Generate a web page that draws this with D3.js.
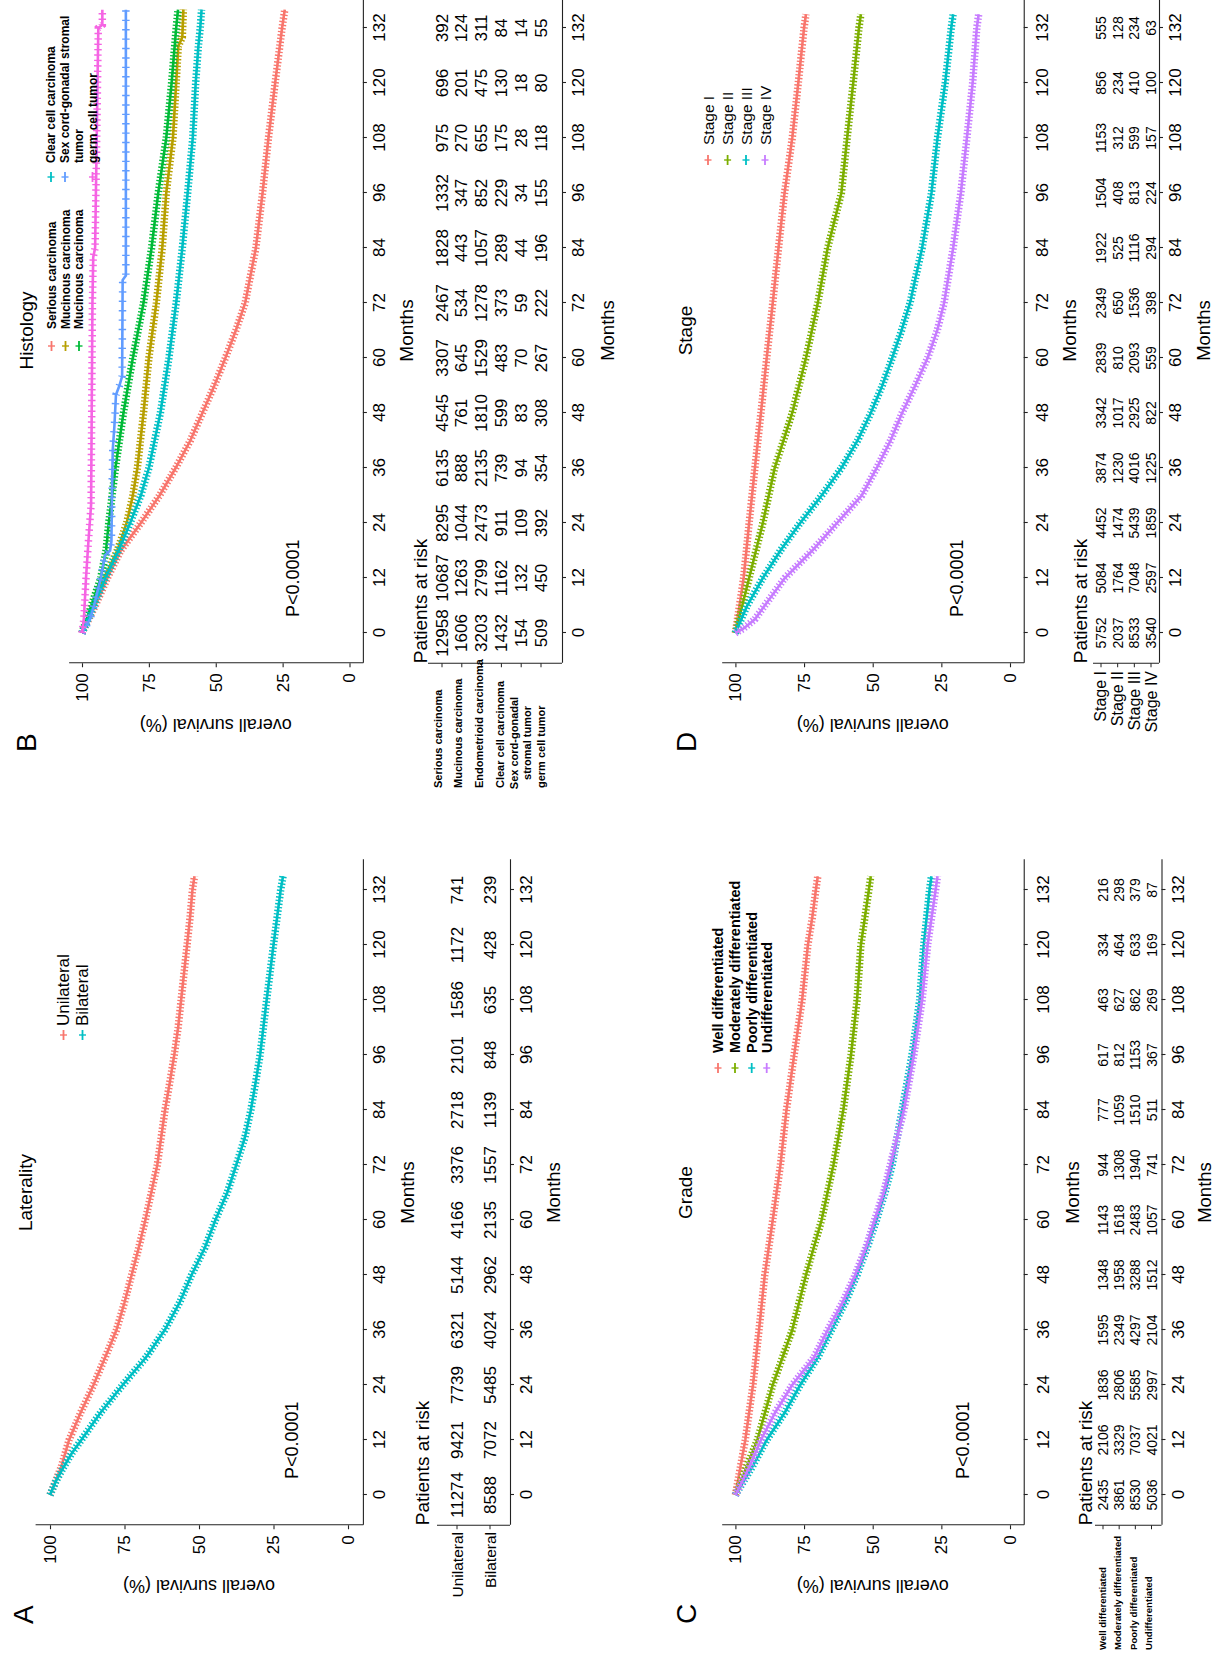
<!DOCTYPE html>
<html>
<head>
<meta charset="utf-8">
<script src="https://cdn.jsdelivr.net/npm/d3@7"></script>
<style>
  html, body { margin: 0; background: #fff; }
  svg { display: block; }
</style>
</head>
<body>
<svg id="fig" width="1218" height="1657"></svg>
<script>
// ---- shared ticks ----
const monthTicks = [0, 12, 24, 36, 48, 60, 72, 84, 96, 108, 120, 132];
const survTicks = [0, 25, 50, 75, 100];

// ---- A: Laterality ----
const lateralityGroups = ['Unilateral', 'Bilateral'];
const lateralityColors = ['#F8766D', '#00BFC4'];
const unilateralSurv = [[0,100],[6,96.3],[12,93.6],[18,89.7],[24,85.4],[30,81.5],[36,77.7],[42,75],[48,72.6],[54,70.2],[60,68],[66,66],[72,64],[78,62.7],[84,61.4],[90,59.8],[96,58.3],[102,57],[108,56],[114,55],[120,54],[126,53],[132,52.2],[135,51.5]];
const bilateralSurv = [[0,100],[3,98],[6,95.5],[9,92.8],[12,89.5],[18,83],[24,75.6],[30,67.8],[36,61.5],[42,56.5],[48,52.5],[54,48],[60,44.5],[66,40.5],[72,37.5],[78,34.6],[84,32.6],[90,31],[96,29.5],[108,27.3],[120,25],[132,22.6],[135,21.8]];
const unilateralRisk = [11274, 9421, 7739, 6321, 5144, 4166, 3376, 2718, 2101, 1586, 1172, 741];
const bilateralRisk = [8588, 7072, 5485, 4024, 2962, 2135, 1557, 1139, 848, 635, 428, 239];

// ---- B: Histology ----
const histologyGroups = ['Serious carcinoma', 'Mucinous carcinoma', 'Endometrioid carcinoma', 'Clear cell carcinoma', 'Sex cord-gonadal stromal tumor', 'germ cell tumor'];
const histologyLegend = ['Serious carcinoma', 'Mucinous carcinoma', 'Mucinous carcinoma', 'Clear cell carcinoma', ['Sex cord-gonadal stromal', 'tumor'], 'germ cell tumor'];
const histologyRowNames = ['Serious carcinoma', 'Mucinous carcinoma', 'Endometrioid carcinoma', 'Clear cell carcinoma', ['Sex cord-gonadal', 'stromal tumor'], 'germ cell tumor'];
const histologyColors = ['#F8766D', '#B79F00', '#00BA38', '#00BFC4', '#619CFF', '#F564E3'];
const seriousSurv = [[0,100],[6,95],[12,90.5],[18,85.5],[24,78],[30,71],[36,65],[42,59.5],[48,55],[54,50.5],[60,46.4],[66,42.5],[72,39],[78,37],[84,35],[96,32.5],[108,30.3],[120,27.8],[132,25.2],[136,24.2]];
const mucinousSurv = [[0,100],[6,96],[12,91.8],[18,86.8],[24,83.3],[30,81],[36,79.3],[48,77],[60,75],[72,72.2],[84,70],[96,68.5],[108,66],[120,64.8],[128,64],[130,62.5],[136,62.1]];
const endometrioidSurv = [[0,100],[6,96.5],[12,93],[18,91],[24,90],[36,87.5],[48,84.5],[60,81],[72,77],[84,74],[96,71.5],[108,68.5],[120,66.5],[132,64.8],[136,64.1]];
const clearCellSurv = [[0,100],[6,95.5],[12,91.3],[18,86.3],[24,82],[30,78],[36,75],[48,70.7],[60,67.5],[72,64.8],[84,62.5],[96,60.5],[108,58.6],[120,57.5],[128,56.5],[132,55.8],[136,55.3]];
const sexCordSurv = [[0,100],[3,97],[6,95.5],[12,93],[15,92],[17,91.4],[18,89.5],[20,89],[30,88.8],[40,88.5],[45,87.9],[52,87.3],[54,86],[56,85],[77,84.8],[78,83.6],[136,83.6]];
const germCellSurv = [[0,100],[3,99.3],[12,98.5],[20,97.6],[28,96.6],[72,96.1],[82,95.8],[84,95.1],[132,93.9],[132.7,92.4],[136,92.4]];
const seriousRisk = [12958, 10687, 8295, 6135, 4545, 3307, 2467, 1828, 1332, 975, 696, 392];
const mucinousRisk = [1606, 1263, 1044, 888, 761, 645, 534, 443, 347, 270, 201, 124];
const endometrioidRisk = [3203, 2799, 2473, 2135, 1810, 1529, 1278, 1057, 852, 655, 475, 311];
const clearCellRisk = [1432, 1162, 911, 739, 599, 483, 373, 289, 229, 175, 130, 84];
const sexCordRisk = [154, 132, 109, 94, 83, 70, 59, 44, 34, 28, 18, 14];
const germCellRisk = [509, 450, 392, 354, 308, 267, 222, 196, 155, 118, 80, 55];

// ---- C: Grade ----
const gradeGroups = ['Well differentiated', 'Moderately differentiated', 'Poorly differentiated', 'Undifferentiated'];
const gradeColors = ['#F8766D', '#7CAE00', '#00BFC4', '#C77CFF'];
const wellSurv = [[0,100],[12,96.4],[24,93.6],[36,91.4],[48,89.3],[60,86.4],[72,83.6],[84,81.4],[96,78.6],[108,75.7],[120,73.6],[126,72],[132,70.7],[135,70]];
const moderateSurv = [[0,100],[6,96],[12,92],[24,86.4],[36,79.3],[48,74.3],[60,68.6],[72,64.3],[84,60.7],[96,57.9],[108,55.7],[120,54.3],[132,51.4],[135,50.7]];
const poorlySurv = [[0,100],[6,94],[12,88.6],[18,82],[24,76.4],[30,70],[36,65],[42,60],[48,55.7],[54,52],[60,48.6],[66,45.5],[72,42.9],[84,39.3],[96,35.7],[108,32.9],[120,31.4],[132,29.3],[135,28.6]];
const undiffSurv = [[0,100],[6,95],[12,90.7],[18,85.5],[24,79.3],[30,71.4],[36,66.4],[42,61],[48,56.4],[54,52.5],[60,49.3],[66,46],[72,43.6],[84,38.6],[96,35],[108,32],[120,30],[132,27.1],[135,26.4]];
const wellRisk = [2435, 2106, 1836, 1595, 1348, 1143, 944, 777, 617, 463, 334, 216];
const moderateRisk = [3861, 3329, 2806, 2349, 1958, 1618, 1308, 1059, 812, 627, 464, 298];
const poorlyRisk = [8530, 7037, 5585, 4297, 3288, 2483, 1940, 1510, 1153, 862, 633, 379];
const undiffRisk = [5036, 4021, 2997, 2104, 1512, 1057, 741, 511, 367, 269, 169, 87];

// ---- D: Stage ----
const stageGroups = ['Stage I', 'Stage II', 'Stage III', 'Stage IV'];
const stageColors = ['#F8766D', '#7CAE00', '#00BFC4', '#C77CFF'];
const stage1Surv = [[0,100],[12,97],[24,95],[36,92.9],[48,90.7],[60,88.6],[72,86.4],[84,84.3],[96,82.1],[108,79.3],[120,77.1],[132,75],[135,74.3]];
const stage2Surv = [[0,100],[6,97.5],[12,95],[24,90],[36,85.7],[48,79.3],[60,74.3],[72,70],[84,66.4],[96,61.4],[108,59.3],[120,57.1],[132,55],[135,54.3]];
const stage3Surv = [[0,100],[6,95.7],[12,90],[18,83.6],[24,76.4],[30,68.6],[36,61.4],[42,55.5],[48,50.7],[54,46.5],[60,42.9],[66,39.5],[72,36.4],[84,32],[96,28.6],[108,26.4],[120,23.6],[132,21.4],[135,20.7]];
const stage4Surv = [[0,100],[1,97],[3,92.9],[6,89.3],[12,82],[18,72],[24,63],[30,54],[36,48.5],[42,43.5],[48,39.3],[54,34.5],[60,30],[66,26.5],[72,24],[84,20.7],[96,17.9],[108,15.7],[120,13.6],[132,12.1],[135,11.4]];
const stage1Risk = [5752, 5084, 4452, 3874, 3342, 2839, 2349, 1922, 1504, 1153, 856, 555];
const stage2Risk = [2037, 1764, 1474, 1230, 1017, 810, 650, 525, 408, 312, 234, 128];
const stage3Risk = [8533, 7048, 5439, 4016, 2925, 2093, 1536, 1116, 813, 599, 410, 234];
const stage4Risk = [3540, 2597, 1859, 1225, 822, 559, 398, 294, 224, 157, 100, 63];

// ---- drawing ----
const FONT = '"Liberation Sans", Arial, Helvetica, sans-serif';
const PX = 605 / 132;   // pixels per month
const svg = d3.select('#fig');
// the figure is stored rotated a quarter turn: draw landscape, rotate
const root = svg.append('g').attr('transform', 'translate(0,1657) rotate(-90)');

function label(g, str, u, v, o = {}) {
  let tf = `translate(${u},${v})`;
  if (o.rot) tf += ` rotate(${o.rot})`;
  if (o.sx) tf += ` scale(${o.sx},1)`;
  return g.append('text')
    .attr('transform', tf)
    .attr('text-anchor', o.anchor || 'start')
    .attr('dominant-baseline', 'central')
    .attr('font-family', FONT)
    .attr('font-size', o.size || 17)
    .attr('font-weight', o.bold ? 'bold' : null)
    .attr('fill', '#000')
    .text(str);
}

function styleAxis(ga, size) {
  ga.attr('font-family', FONT).attr('font-size', size);
  ga.select('.domain').attr('stroke', '#222').attr('stroke-width', 1.1);
  ga.selectAll('.tick line').attr('stroke', '#222').attr('stroke-width', 1.1);
  ga.selectAll('.tick text').attr('fill', '#000');
}

function drawPanel(p) {
  const g = root.append('g');
  const k = (p.v0 - p.v100) / 100;
  const x = d3.scaleLinear().domain([-6.6, 138.6]).range([p.u0 - 6.6 * PX, p.u0 + 138.6 * PX]);
  const y = d3.scaleLinear().domain([-5, 105]).range([p.v0 + 5 * k, p.v100 - 5 * k]);
  const xl = x(-6.6), yBot = y(-5);

  // axes
  const gy = g.append('g').attr('transform', `translate(${xl},0)`)
    .call(d3.axisLeft(y).tickValues(survTicks).tickSize(4).tickPadding(6).tickSizeOuter(0));
  styleAxis(gy, 17);
  const gx = g.append('g').attr('transform', `translate(0,${yBot})`)
    .call(d3.axisBottom(x).tickValues(monthTicks).tickSize(4).tickPadding(p.xPad).tickSizeOuter(0));
  styleAxis(gx, 17);

  // curves with dense censor marks
  const line = d3.line().x(d => x(d[0])).y(d => y(d[1]));
  p.surv.forEach((s, i) => {
    g.append('path').attr('d', line(s)).attr('fill', 'none')
      .attr('stroke', p.colors[i]).attr('stroke-width', 2.6);
    g.append('path').attr('d', line(s)).attr('fill', 'none')
      .attr('stroke', p.colors[i]).attr('stroke-width', 7.5)
      .attr('stroke-dasharray', (p.dash && p.dash[i]) || '1.4,2');
  });

  // texts
  label(g, p.title, x(66), p.titleV, { anchor: 'middle', size: 19 });
  label(g, 'Months', x(66), p.xTitleV, { anchor: 'middle', size: 19 });
  label(g, 'overall survival (%)', p.yTitleU, y(50), { anchor: 'middle', rot: -90, size: 18 });
  label(g, p.letter, p.letterU, p.letterV, { size: 28 });
  label(g, 'P<0.0001', x(3.5), p.pV, { size: 18 });

  // legend
  p.legend.forEach(it => {
    const c = p.colors[it.i];
    g.append('line').attr('x1', it.keyU - 5).attr('x2', it.keyU + 5)
      .attr('y1', it.v).attr('y2', it.v).attr('stroke', c).attr('stroke-width', 1.8);
    g.append('line').attr('x1', it.keyU).attr('x2', it.keyU)
      .attr('y1', it.v - 3.5).attr('y2', it.v + 3.5).attr('stroke', c).attr('stroke-width', 1.4);
    const lines = Array.isArray(it.text) ? it.text : [it.text];
    lines.forEach((t, j) => label(g, t, it.textU, it.v + j * p.legendLine, { size: p.legendSize, bold: p.legendBold }));
  });

  // risk table
  const T = p.table;
  const row = d3.scalePoint().domain(d3.range(p.groups.length)).range(T.rows);
  label(g, 'Patients at risk', xl, T.titleV, { size: 19 });
  p.risk.forEach((r, i) => r.forEach((n, j) =>
    label(g, n, x(monthTicks[j]), row(i), { anchor: 'middle', size: T.valSize })));
  g.append('line').attr('x1', xl).attr('x2', xl).attr('y1', T.top).attr('y2', T.bottom)
    .attr('stroke', '#222').attr('stroke-width', 1.1);
  g.selectAll(null).data(d3.range(p.groups.length)).join('line')
    .attr('x1', xl - 4).attr('x2', xl).attr('y1', i => row(i)).attr('y2', i => row(i))
    .attr('stroke', '#222').attr('stroke-width', 1);
  const gt = g.append('g').attr('transform', `translate(0,${T.bottom})`)
    .call(d3.axisBottom(x).tickValues(monthTicks).tickSize(4).tickPadding(6).tickSizeOuter(0));
  styleAxis(gt, 17);
  label(g, 'Months', x(66), T.monthsV, { anchor: 'middle', size: 18.5 });

  // row names
  const nm = p.names;
  const nrow = d3.scalePoint().domain(d3.range(p.groups.length)).range(nm.rows);
  p.rowNames.forEach((n, i) => {
    if (Array.isArray(n)) {
      n.forEach((t, j) => label(g, t, nm.multiU, nrow(i) + (j - 0.5) * 13,
        { anchor: 'middle', size: nm.size, bold: nm.bold }));
    } else {
      label(g, n, nm.u, nrow(i), { anchor: nm.anchor, size: nm.size, bold: nm.bold });
    }
  });
}

const panels = [
  {
    letter: 'A', title: 'Laterality', groups: lateralityGroups, colors: lateralityColors,
    surv: [unilateralSurv, bilateralSurv], risk: [unilateralRisk, bilateralRisk],
    rowNames: lateralityGroups,
    u0: 162, v100: 50, v0: 348, xPad: 6, titleV: 25, xTitleV: 407, yTitleU: 71,
    letterU: 33, letterV: 23, pV: 292,
    legendSize: 17, legendBold: false, legendLine: 14,
    legend: [
      { i: 0, text: 'Unilateral', keyU: 622, textU: 631, v: 63.5 },
      { i: 1, text: 'Bilateral', keyU: 622, textU: 631, v: 82.5 }
    ],
    table: { titleV: 422, rows: [457, 490], top: 437, bottom: 510, monthsV: 553, valSize: 17 },
    names: { rows: [457, 490], u: 125, anchor: 'end', size: 15.5, bold: false }
  },
  {
    letter: 'B', title: 'Histology', groups: histologyGroups, colors: histologyColors,
    surv: [seriousSurv, mucinousSurv, endometrioidSurv, clearCellSurv, sexCordSurv, germCellSurv],
    risk: [seriousRisk, mucinousRisk, endometrioidRisk, clearCellRisk, sexCordRisk, germCellRisk],
    rowNames: histologyRowNames,
    dash: [null, null, null, null, '1.4,8', '1.4,4'],
    u0: 1024, v100: 82, v0: 349.5, xPad: 6, titleV: 26, xTitleV: 406, yTitleU: 932,
    letterU: 905, letterV: 26, pV: 293,
    legendSize: 12, legendBold: true, legendLine: 13.5,
    legend: [
      { i: 0, text: histologyLegend[0], keyU: 1311, textU: 1328, v: 51.5 },
      { i: 1, text: histologyLegend[1], keyU: 1311, textU: 1328, v: 65.5 },
      { i: 2, text: histologyLegend[2], keyU: 1311, textU: 1328, v: 79 },
      { i: 3, text: histologyLegend[3], keyU: 1480, textU: 1494, v: 51 },
      { i: 4, text: histologyLegend[4], keyU: 1480, textU: 1494, v: 65 },
      { i: 5, text: histologyLegend[5], keyU: 1480, textU: 1494, v: 92.5 }
    ],
    table: { titleV: 420, rows: [442, 541], top: 428, bottom: 562, monthsV: 607, valSize: 17 },
    names: { rows: [437.5, 541], u: 869, multiU: 914, anchor: 'start', size: 11, bold: true }
  },
  {
    letter: 'C', title: 'Grade', groups: gradeGroups, colors: gradeColors,
    surv: [wellSurv, moderateSurv, poorlySurv, undiffSurv],
    risk: [wellRisk, moderateRisk, poorlyRisk, undiffRisk],
    rowNames: gradeGroups,
    u0: 162, v100: 735.4, v0: 1010, xPad: 9, titleV: 685, xTitleV: 1072, yTitleU: 71,
    letterU: 33, letterV: 686, pV: 963,
    legendSize: 14.5, legendBold: true, legendLine: 14,
    legend: gradeGroups.map((t, i) => ({ i, text: t, keyU: 589, textU: 604, v: [718, 735, 751.7, 766.7][i] })),
    table: { titleV: 1085, rows: [1103, 1151.5], top: 1095, bottom: 1161.5, monthsV: 1204, valSize: 14 },
    names: { rows: [1102, 1148.5], u: 7, anchor: 'start', size: 9.6, bold: true }
  },
  {
    letter: 'D', title: 'Stage', groups: stageGroups, colors: stageColors,
    surv: [stage1Surv, stage2Surv, stage3Surv, stage4Surv],
    risk: [stage1Risk, stage2Risk, stage3Risk, stage4Risk],
    rowNames: stageGroups,
    u0: 1024, v100: 735.4, v0: 1010, xPad: 8, titleV: 685, xTitleV: 1069, yTitleU: 932,
    letterU: 905, letterV: 686, pV: 957,
    legendSize: 15.5, legendBold: false, legendLine: 14,
    legend: stageGroups.map((t, i) => ({ i, text: t, keyU: 1497, textU: 1512, v: [708, 727.6, 746, 765][i] })),
    table: { titleV: 1080, rows: [1101, 1151], top: 1093, bottom: 1159, monthsV: 1203, valSize: 14 },
    names: { rows: [1100, 1151], u: 986, anchor: 'end', size: 16, bold: false }
  }
];

panels.forEach(drawPanel);
</script>
</body>
</html>
